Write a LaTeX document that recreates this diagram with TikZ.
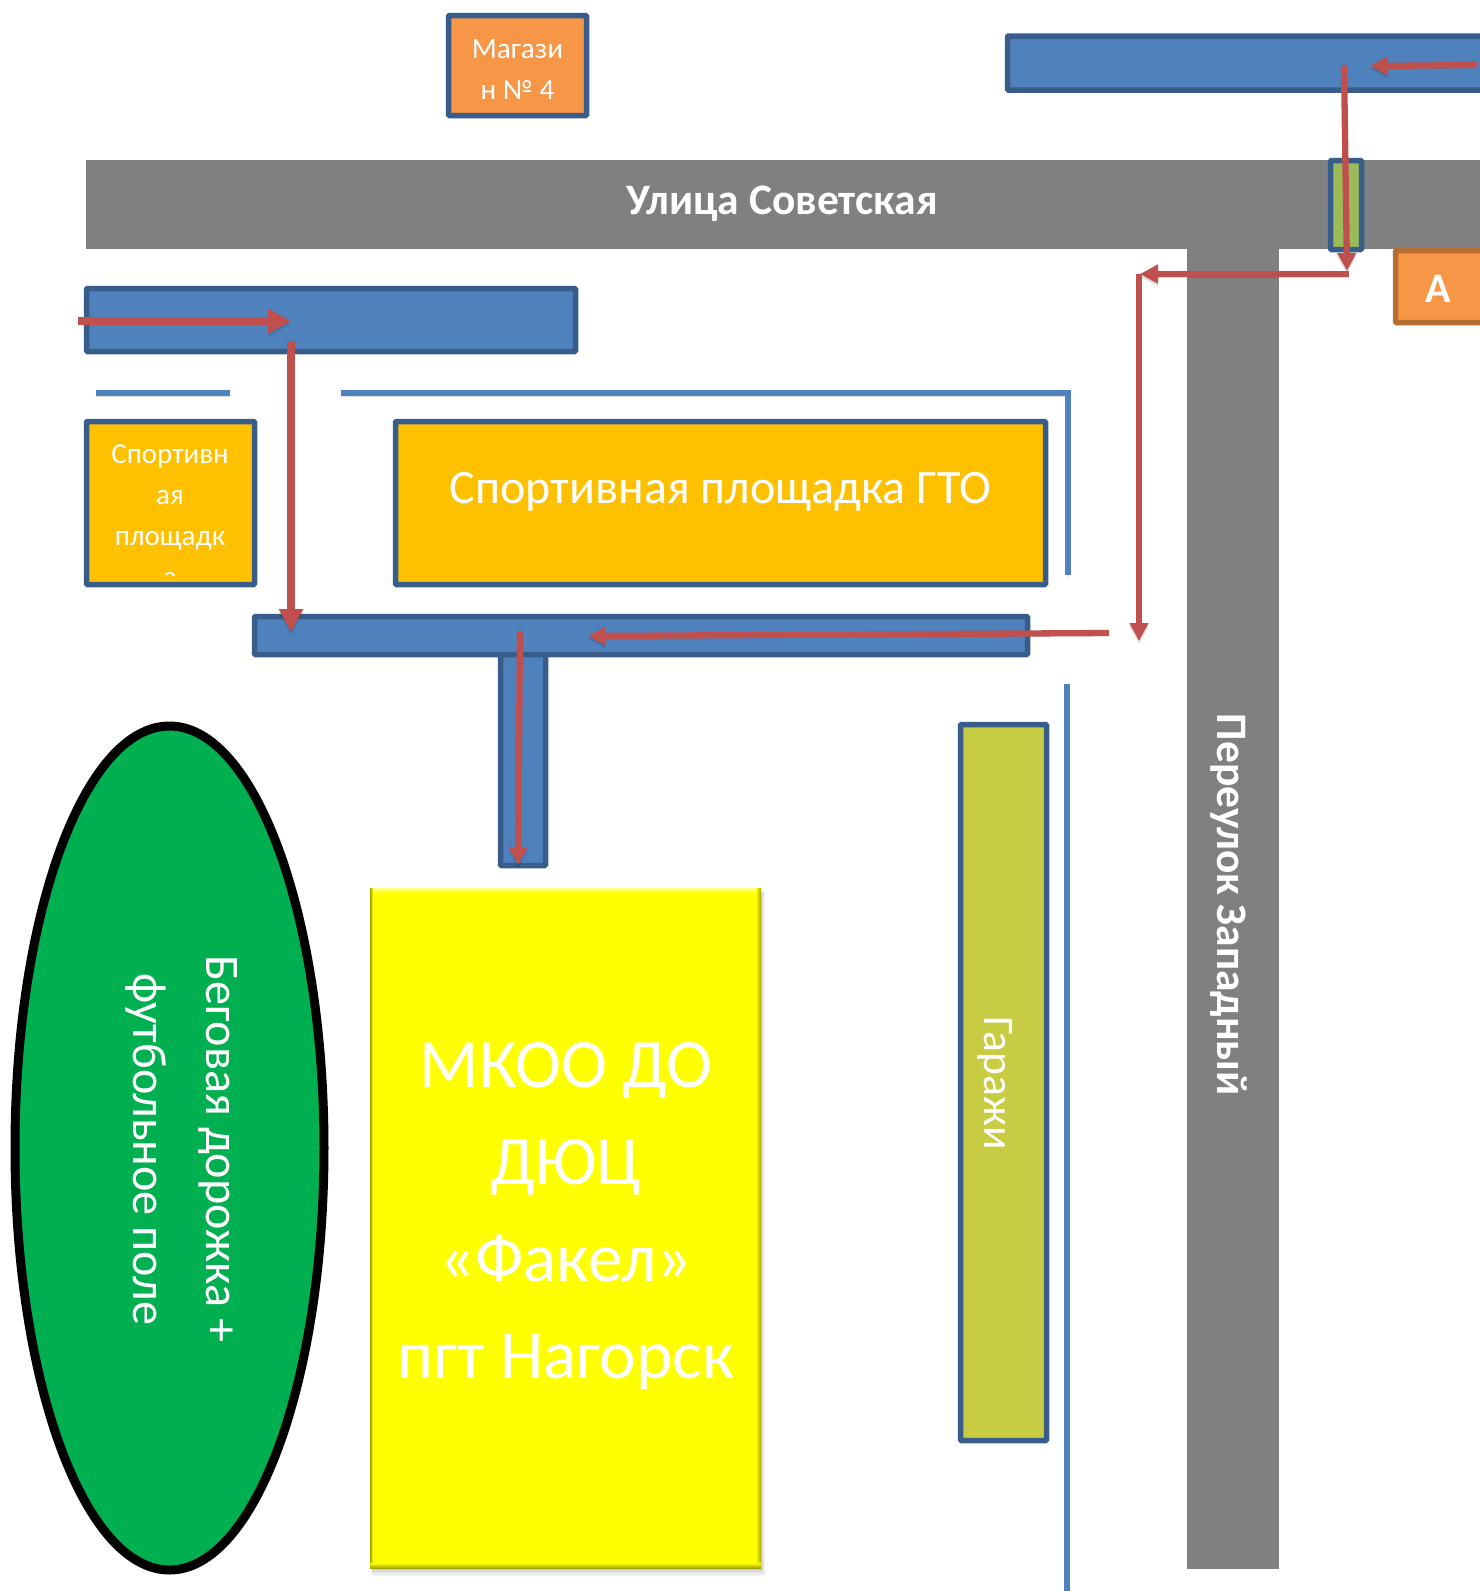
\documentclass[tikz,border=0pt]{standalone}
\usepackage{fontspec}
\setmainfont{Carlito}
\usetikzlibrary{arrows.meta,shapes.geometric}
\definecolor{stripblue}{HTML}{4F81BD}
\definecolor{stripedge}{HTML}{385D8A}
\definecolor{routered}{HTML}{C0504D}
\definecolor{roadgray}{HTML}{808080}
\definecolor{shopfill}{HTML}{F79646}
\definecolor{shopedge}{HTML}{B66D31}
\definecolor{sportfill}{HTML}{FFC000}
\definecolor{garagefill}{HTML}{C8CC43}
\definecolor{crossfill}{HTML}{9BBB59}
\definecolor{fieldfill}{HTML}{00B050}
\definecolor{schoolfill}{HTML}{FFFF00}
\definecolor{schooledge}{HTML}{A3A300}
\tikzset{
	map box/.style={draw=stripedge, line width=5.5pt, rounded corners=1pt, inner sep=0pt, outer sep=0pt,
		align=center, text=white, anchor=north west},
	road/.style={fill=roadgray, inner sep=0pt, outer sep=0pt, anchor=north west},
	road label/.style={text=white, font=\fontsize{43.5}{43.5}\selectfont\bfseries},
	fence/.style={draw=stripblue, line width=5.5pt,
		preaction={draw=black, opacity=0.12, transform canvas={yshift=-3pt}}},
	route/.style={draw=routered, line width=6.3pt, -{Triangle[length=18pt,width=18pt]},
		preaction={draw=black, opacity=0.12, transform canvas={yshift=-3pt}}},
	thick route/.style={route, line width=8pt, -{Triangle[length=23pt,width=23pt]}},
}
\begin{document}
\begin{tikzpicture}[x=1pt,y=-1pt]
		\useasboundingbox (0,0) rectangle (1480,1591);
		\clip (0,0) rectangle (1480,1591);
		% roads
		\node[road, minimum width=1394pt, minimum height=89pt] (sovetskaya) at (86,160) {};
		\node[road, minimum width=92pt, minimum height=1320pt] (zapadny) at (1187,249) {};
		\node[road label] at (782,204) {Улица Советская};
		\node[road label, rotate=-90] at (1229,905) {Переулок Западный};
		% paths
		\draw[map box, fill=stripblue] (1007.5,36) rectangle (1490,90);
		\draw[map box, fill=stripblue] (86.5,288.5) rectangle (575.5,351.5);
		\draw[map box, fill=stripblue] (500.5,652) rectangle (545.5,865.5);
		\draw[map box, fill=stripblue] (254.5,616.5) rectangle (1027.5,654.5);
		\draw[map box, fill=crossfill] (1330.5,160.5) rectangle (1361.5,249.5);
		% shop and point A
		\node[map box, fill=shopfill, minimum width=138pt, minimum height=100pt,
			font=\fontsize{29.3}{40.5}\selectfont] (shop) at (448.5,15.5) {\rule{0pt}{27pt}Магази\\н № 4};
		\node[map box, draw=shopedge, fill=shopfill, minimum width=95pt, minimum height=72pt,
			font=\fontsize{42}{42}\selectfont\bfseries] (pointA) at (1395.5,250.5) {\hspace*{-10pt}\rule{0pt}{31pt}А};
		% fences
		\draw[fence] (96,393) -- (230,393);
		\draw[fence] (341,393) -- (1068,393) -- (1068,575);
		\draw[fence] (1067,684) -- (1067,1591);
		% sport grounds
		\node[map box, fill=sportfill, minimum width=168pt, minimum height=163pt] (smallground) at (86.5,421.5) {};
		\begin{scope}
			\clip (89,424) rectangle (252,575);
			\node[anchor=north, text=white, align=center, font=\fontsize{29}{41}\selectfont]
				at (170,441) {Спортивн\\ая\\площадк\\а};
		\end{scope}
		\node[map box, fill=sportfill, minimum width=650pt, minimum height=163pt,
			font=\fontsize{48}{48}\selectfont] (gto) at (395.5,421.5) {\raisebox{30pt}{Спортивная площадка ГТО}};
		% main building
		\foreach \s in {2,4,...,10}
			\fill[black, opacity=0.05] (372,892) rectangle (760+\s/2,1566+\s);
		\fill[schoolfill] (370,888) rectangle (761,1568);
		\shade[top color=schoolfill!45!white, bottom color=schoolfill] (370,888) rectangle (761,893);
		\shade[left color=schoolfill, right color=schooledge] (756,888) rectangle (761,1568);
		\shade[left color=schooledge, right color=schoolfill] (370,888) rectangle (373,1568);
		\shade[top color=schoolfill, bottom color=schooledge] (370,1563) rectangle (761,1568);
		\node[anchor=north, align=center, text=white, font=\fontsize{69.4}{97}\selectfont] (school) at (566,1039)
			{МКОО ДО\\ДЮЦ\\«Факел»\\пгт Нагорск};
		% garages
		\node[map box, fill=garagefill, minimum width=86pt, minimum height=716pt] (garages) at (960.5,724.5) {};
		\node[rotate=-90, text=white, font=\fontsize{43.5}{43.5}\selectfont] at (995,1083) {Гаражи};
		% field
		\node[ellipse, draw=black, line width=9pt, fill=fieldfill, minimum width=309pt, minimum height=844pt,
			inner sep=0pt] (field) at (169.5,1148) {};
		\node[rotate=-90, text=white, align=center, font=\fontsize{48.2}{73}\selectfont] at (182,1149)
			{Беговая дорожка +\\футбольное поле};
		% walking route
		\coordinate (r1) at (1477,65);
		\coordinate (r2) at (1370,66);
		\coordinate (r3) at (1344,65);
		\coordinate (r4) at (1347,271);
		\coordinate (r5) at (1349,274);
		\coordinate (r6) at (1140,274);
		\coordinate (r7) at (1139,274);
		\coordinate (r8) at (1139,641);
		\coordinate (r9) at (1109,633);
		\coordinate (r10) at (588,636);
		\coordinate (l1) at (78,321);
		\coordinate (l2) at (291,321);
		\coordinate (l3) at (291,341);
		\coordinate (l4) at (291,632);
		\coordinate (s1) at (520,631);
		\coordinate (s2) at (518,865);
		\draw[route] (r1) -- (r2);
		\draw[route] (r3) -- (r4);
		\draw[route] (r5) -- (r6);
		\draw[route] (r7) -- (r8);
		\draw[route] (r9) -- (r10);
		\draw[thick route] (l1) -- (l2);
		\draw[thick route] (l3) -- (l4);
		\draw[route] (s1) -- (s2);
\end{tikzpicture}
\end{document}
